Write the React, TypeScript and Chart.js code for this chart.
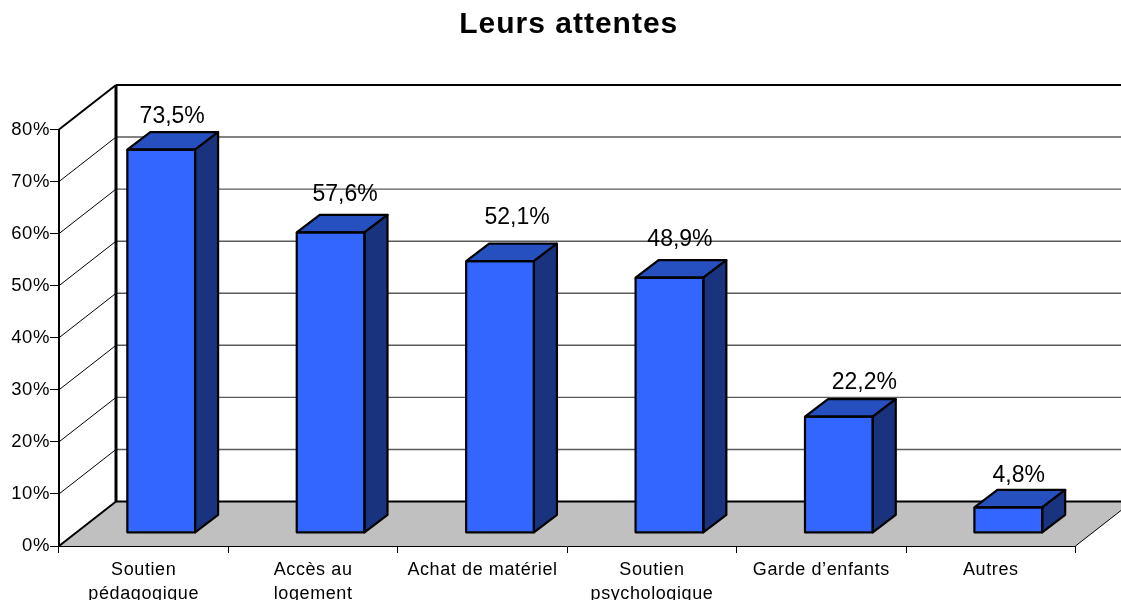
import React, { useEffect, useRef } from "react";
import { Chart, registerables } from "chart.js";

Chart.register(...registerables);

const categories: (string | string[])[] = [
  ["Soutien", "pédagogique"],
  ["Accès au", "logement"],
  "Achat de matériel",
  ["Soutien", "psychologique"],
  "Garde d’enfants",
  "Autres",
];
const values = [73.5, 57.6, 52.1, 48.9, 22.2, 4.8];
const valueLabels = ["73,5%", "57,6%", "52,1%", "48,9%", "22,2%", "4,8%"];

const FONT = "'Liberation Sans', Arial, sans-serif";
const WALL_DX = 57;
const WALL_DY = -44.5;
const BAR_DX = 17.5;
const BAR_DY = -13.7;
const TOP_DX = 23;
const TOP_DY = -17.5;
const labelNudge = [
  [11, -33],
  [14.5, -37.5],
  [17, -43],
  [10.5, -38],
  [25.5, -34],
  [10.5, -32],
];

function poly(ctx: CanvasRenderingContext2D, pts: number[][], fill: string | null, stroke: string | null, lw = 2) {
  ctx.beginPath();
  pts.forEach((p, i) => (i ? ctx.lineTo(p[0], p[1]) : ctx.moveTo(p[0], p[1])));
  if (fill) {
    ctx.closePath();
    ctx.fillStyle = fill;
    ctx.fill();
  }
  if (stroke) {
    ctx.lineWidth = lw;
    ctx.strokeStyle = stroke;
    ctx.lineJoin = "round";
    ctx.stroke();
  }
}

const walls3d = {
  id: "walls3d",
  afterLayout(chart: any) {
    const tb = chart.titleBlock;
    if (tb && !tb.__wrapped) {
      tb.__wrapped = true;
      const draw = tb.draw.bind(tb);
      tb.draw = () => {
        chart.ctx.save();
        chart.ctx.letterSpacing = "1px";
        chart.ctx.translate(31, 0);
        draw();
        chart.ctx.restore();
      };
    }
  },
  beforeDraw(chart: any) {
    const { ctx, chartArea: a, scales } = chart;
    const y = scales.y;
    ctx.save();
    const bl = [a.left, a.bottom];
    const br = [a.right, a.bottom];
    const bbl = [a.left + WALL_DX, a.bottom + WALL_DY];
    const bbr = [a.right + WALL_DX, a.bottom + WALL_DY];
    poly(ctx, [bl, br, bbr, bbl], "#C0C0C0", null);
    // wall gridlines
    y.ticks.forEach((t: any) => {
      const py = y.getPixelForValue(t.value);
      if (t.value === 0) return;
      poly(ctx, [[a.left + WALL_DX, py + WALL_DY], [chart.width + 2, py + WALL_DY]], null, t.value === 80 ? "#000000" : "#5a5a5a", t.value === 80 ? 2 : 1.4);
      poly(ctx, [[a.left, py], [a.left + WALL_DX, py + WALL_DY]], null, "#000000", t.value === 80 ? 2 : 1);
    });
    poly(ctx, [bbl, [chart.width + 2, bbl[1]]], null, "#000000", 2);
    poly(ctx, [[a.left + WALL_DX, a.top + WALL_DY], bbl], null, "#000000", 3);
    poly(ctx, [bl, bbl], null, "#000000", 2);
    poly(ctx, [br, bbr], null, "#000000", 1);
    ctx.restore();
    ctx.letterSpacing = "0.6px";
  },
};

const bars3d = {
  id: "bars3d",
  beforeDatasetDraw(chart: any) {
    const { ctx } = chart;
    ctx.save();
    ctx.translate(BAR_DX, BAR_DY);
  },
  afterDatasetDraw(chart: any, args: any) {
    const { ctx } = chart;
    const els = args.meta.data;
    els.forEach((el: any) => {
      const { x, y, base, width } = el.getProps(["x", "y", "base", "width"], true);
      const l = x - width / 2;
      const r = x + width / 2;
      const t = y;
      const b = chart.scales.y.getPixelForValue(0);
      poly(ctx, [[l, t], [r, t], [r + TOP_DX, t + TOP_DY], [l + TOP_DX, t + TOP_DY]], "#2650BF", "#000000", 2.2);
      poly(ctx, [[r, t], [r + TOP_DX, t + TOP_DY], [r + TOP_DX, b + TOP_DY], [r, b]], "#1A337F", "#000000", 2.2);
      poly(ctx, [[l, t], [r, t], [r, b], [l, b], [l, t]], null, "#000000", 2.2);
    });
    ctx.restore();
    // value labels
    ctx.save();
    ctx.letterSpacing = "0px";
    ctx.font = `23px ${FONT}`;
    ctx.fillStyle = "#000000";
    ctx.textAlign = "center";
    ctx.textBaseline = "middle";
    els.forEach((el: any, i: number) => {
      const { x, y } = el.getProps(["x", "y"], true);
      ctx.fillText(valueLabels[i], x + BAR_DX + labelNudge[i][0], y + BAR_DY + labelNudge[i][1]);
    });
    ctx.restore();
  },
};

export default function App() {
  const ref = useRef<HTMLCanvasElement>(null);
  useEffect(() => {
    const chart = new Chart(ref.current!, {
      type: "bar",
      data: {
        labels: categories as any,
        datasets: [
          {
            data: values,
            backgroundColor: "#3366FF",
            borderWidth: 0,
            barPercentage: 1,
            categoryPercentage: 0.4,
          },
        ],
      },
      options: {
        responsive: false,
        animation: false,
        devicePixelRatio: 1,
        events: [],
        layout: { padding: { top: 0, right: 45.5, bottom: 0, left: 0 } },
        plugins: {
          legend: { display: false },
          tooltip: { enabled: false },
          title: {
            display: true,
            text: "Leurs attentes",
            color: "#000000",
            font: { family: FONT, size: 30, weight: "bold", lineHeight: 1.2 },
            padding: { top: 6.8, bottom: 86.7 },
          },
        },
        scales: {
          x: {
            afterFit: (s: any) => {
              s.height = 54;
            },
            border: { display: true, color: "#000000", width: 1 },
            grid: { drawOnChartArea: false, drawTicks: true, tickLength: 7, tickColor: "#000000", offset: true },
            ticks: {
              color: "#000000",
              font: { family: FONT, size: 18, lineHeight: 1.35 },
              padding: 5,
              maxRotation: 0,
              minRotation: 0,
              autoSkip: false,
            },
          },
          y: {
            min: 0,
            max: 80,
            afterFit: (s: any) => {
              s.width = 59;
            },
            border: { display: true, color: "#000000", width: 2 },
            grid: { drawOnChartArea: false, drawTicks: true, tickLength: 9, tickColor: "#000000" },
            ticks: {
              stepSize: 10,
              color: "#000000",
              padding: 0,
              font: { family: FONT, size: 18.5 },
              callback: (v: any) => `${v}%`,
            },
          },
        },
      } as any,
      plugins: [walls3d, bars3d] as any,
    });
    return () => chart.destroy();
  }, []);
  return (
    <div style={{ position: "absolute", left: 0, top: 0, width: 1121, height: 600, overflow: "hidden", background: "#fff" }}>
      <canvas ref={ref} width={1121} height={600} style={{ display: "block" }} />
    </div>
  );
}
